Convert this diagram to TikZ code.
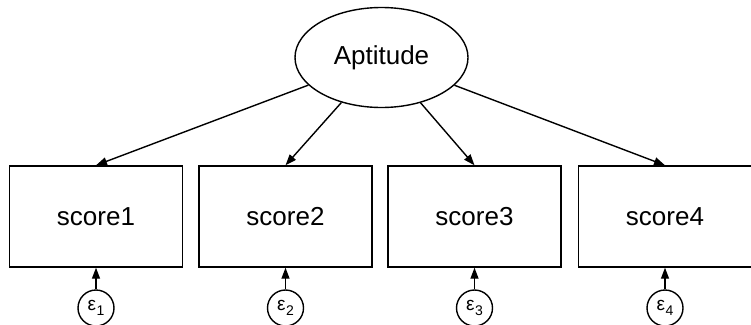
\documentclass[tikz,border=0pt]{standalone}
\usepackage{fontspec}
\setmainfont{Liberation Sans}
\usetikzlibrary{arrows.meta,shapes.geometric}
\tikzset{
  lat/.style={draw,ellipse,line width=1.4pt,minimum width=173pt,minimum height=100pt,inner sep=0pt,font=\fontsize{26}{30}\selectfont},
  obs/.style={draw,rectangle,line width=1.4pt,minimum width=173pt,minimum height=101pt,inner sep=0pt,font=\fontsize{26}{30}\selectfont},
  err/.style={draw,circle,line width=1.4pt,minimum size=36pt,inner sep=0pt,font=\fontsize{19}{22}\selectfont},
  path/.style={line width=1.4pt,-{Triangle[length=11pt,width=8pt]}}
}
\newcommand{\eps}[1]{ε\kern0.5pt\raisebox{-5pt}{\fontsize{14}{15}\selectfont #1}}
\begin{document}
\begin{tikzpicture}[x=1pt,y=-1pt]
\useasboundingbox (0,0) rectangle (751,324);
\node[lat] (apt) at (381.5,57.5) {Aptitude};
\node[obs] (s1) at (96,216.5) {score1};
\node[obs] (s2) at (285.5,216.5) {score2};
\node[obs] (s3) at (474.5,216.5) {score3};
\node[obs] (s4) at (665,216.5) {score4};
\node[err] (e1) at (96,308) {\eps{1}};
\node[err] (e2) at (285.5,308) {\eps{2}};
\node[err] (e3) at (474.5,308) {\eps{3}};
\node[err] (e4) at (665,308) {\eps{4}};
\foreach \i in {1,2,3,4}{
  \draw[path] (apt) -- (s\i.north);
  \draw[path] (e\i) -- (s\i.south);
}
\end{tikzpicture}
\end{document}
